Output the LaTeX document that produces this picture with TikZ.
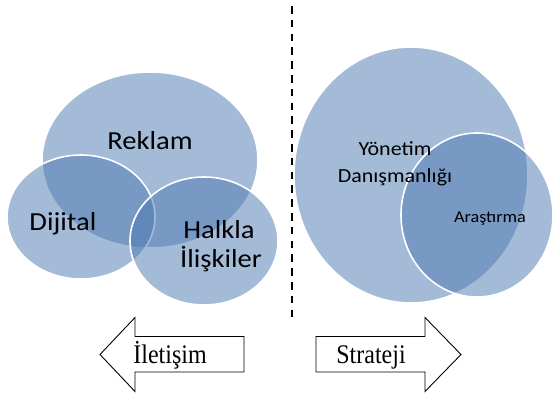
\documentclass[tikz,border=0pt]{standalone}
\usepackage{fontspec}
\usepackage{graphicx}
\setmainfont{Liberation Serif}
\newfontfamily\vennfont[FakeStretch=1.1]{Carlito}
\definecolor{vennblue}{HTML}{4A77B0}
\tikzset{
  vennset/.style={fill=vennblue, fill opacity=0.5, draw=white, line width=1.6pt},
  biglabel/.style={anchor=base, inner sep=0pt, text=black, font=\vennfont\fontsize{26}{30}\selectfont},
  midlabel/.style={anchor=base, inner sep=0pt, text=black, font=\vennfont\fontsize{20}{24}\selectfont},
  smalllabel/.style={anchor=base, inner sep=0pt, text=black, font=\vennfont\fontsize{16.5}{20}\selectfont},
  blockarrow/.style={draw=black, line width=0.9pt, fill=white, line join=miter},
  arrowlabel/.style={anchor=base, inner sep=0pt, font=\fontsize{24}{28}\selectfont},
  divider/.style={draw=black, line width=2pt, dash pattern=on 7.5pt off 6.3pt}
}
\begin{document}
\begin{tikzpicture}[x=1pt, y=-1pt]
  \useasboundingbox (0,0) rectangle (552,394);
  \begin{scope}
    \clip (0,0) rectangle (552,394);
    % communication cluster
    \path[vennset] (150,160) ellipse [x radius=108pt, y radius=88pt];
    \path[vennset] (81,217) ellipse [x radius=74pt, y radius=62pt];
    \path[vennset] (204,241) ellipse [x radius=74pt, y radius=64pt];
    % strategy cluster
    \path[vennset] (411,175) ellipse [x radius=117pt, y radius=128pt];
    \path[vennset] (477,215) ellipse [x radius=76pt, y radius=82pt];
  \end{scope}

  \node[biglabel] (reklam) at (150,149) {Reklam};
  \node[biglabel] (dijital) at (63,230) {Dijital};
  \node[biglabel] (halkla) at (219,238) {Halkla};
  \node[biglabel] (iliskiler) at (221,267) {İlişkiler};

  \node[midlabel] (yonetim) at (395,155) {Yönetim};
  \node[midlabel] (danisman) at (395,182) {Danışmanlığı};
  \node[smalllabel] (arastirma) at (490,222) {Araştırma};

  % divider between the two halves
  \coordinate (divtop) at (292,6);
  \coordinate (divbot) at (292,320);
  \path[divider] (divtop) -- (divbot);

  % block arrows
  \path[blockarrow] (100,354.5) -- (135,317.5) -- (135,336.5) -- (244,336.5)
    -- (244,372) -- (135,372) -- (135,391.5) -- cycle;
  \path[blockarrow] (461,354.5) -- (425,317.5) -- (425,336.5) -- (316,336.5)
    -- (316,372) -- (425,372) -- (425,391.5) -- cycle;

  \node[arrowlabel] (iletisim) at (170,363) {\scalebox{1}[1.12]{İletişim}};
  \node[arrowlabel] (strateji) at (371,363) {\scalebox{1}[1.12]{Strateji}};
\end{tikzpicture}
\end{document}
